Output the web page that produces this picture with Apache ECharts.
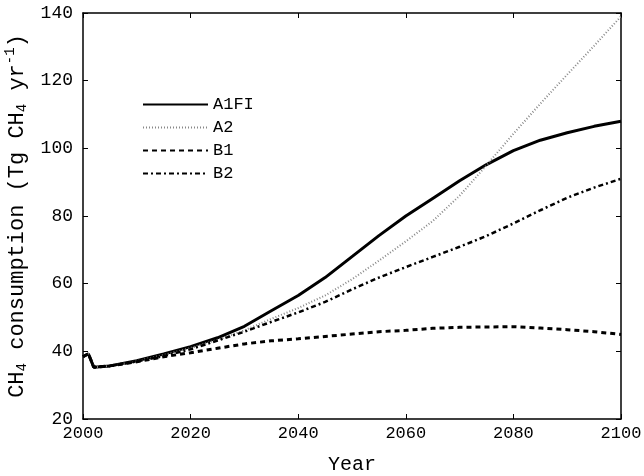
<!DOCTYPE html>
<html>
<head>
<meta charset="utf-8">
<script src="https://cdn.jsdelivr.net/npm/echarts@6/dist/echarts.min.js"></script>
<style>html,body{margin:0;padding:0;background:#fff}#c{width:644px;height:476px}</style>
</head>
<body>
<div id="c"></div>
<script>
var years = [2000, 2001, 2002, 2005, 2010, 2015, 2020, 2025, 2030, 2035, 2040, 2045, 2050, 2055, 2060, 2065, 2070, 2075, 2080, 2085, 2090, 2095, 2100];
var a1fi = [38.4, 39.3, 35.3, 35.7, 37.2, 39.2, 41.4, 44.0, 47.4, 52.0, 56.5, 61.8, 68.0, 74.2, 80.0, 85.2, 90.4, 95.2, 99.3, 102.4, 104.6, 106.5, 108.0];
var a2 = [38.4, 39.3, 35.3, 35.7, 37.1, 38.9, 41.0, 43.4, 46.2, 49.6, 52.8, 56.5, 61.3, 66.8, 72.5, 78.5, 86.0, 95.0, 104.3, 113.2, 121.8, 130.3, 139.0];
var b1 = [38.4, 39.3, 35.3, 35.7, 36.9, 38.4, 39.6, 40.9, 42.2, 43.1, 43.7, 44.4, 45.1, 45.8, 46.2, 46.8, 47.1, 47.2, 47.3, 46.9, 46.4, 45.8, 45.0];
var b2 = [38.4, 39.3, 35.3, 35.7, 37.0, 38.6, 40.6, 43.2, 45.8, 48.7, 51.5, 54.6, 58.3, 61.8, 64.9, 67.9, 70.9, 74.1, 77.8, 81.7, 85.4, 88.4, 91.0];
var xTicks = [2000, 2020, 2040, 2060, 2080, 2100];
var yTicks = [20, 40, 60, 80, 100, 120, 140];

function pairs(v){ return years.map(function(y,i){ return [y, v[i]]; }); }
var FONT = 'Liberation Mono';
var chart = echarts.init(document.getElementById('c'), null, {renderer:'canvas'});
var axisLine = {show:true, lineStyle:{color:'#000', width:1.5}};
var tick = {show:true, inside:true, length:5, lineStyle:{color:'#000', width:1}};
chart.setOption({
  animation:false,
  backgroundColor:'#fff',
  grid:{left:83, right:23, top:13, bottom:57, containLabel:false, outerBoundsMode:'none'},
  legend:{
    orient:'vertical', left:137, top:91, itemWidth:65, itemHeight:12, itemGap:6,
    itemStyle:{opacity:0},
    textStyle:{fontFamily:FONT, fontSize:17, color:'#000'},
    data:['A1FI','A2','B1','B2']
  },
  xAxis:[{
    type:'value', min:xTicks[0], max:xTicks[xTicks.length-1], interval:20,
    name:'Year', nameLocation:'middle', nameGap:36,
    nameTextStyle:{fontFamily:FONT, fontSize:20, color:'#000'},
    axisLine:axisLine, axisTick:tick, splitLine:{show:false},
    axisLabel:{fontFamily:FONT, fontSize:17, color:'#000', margin:6, formatter:function(v){return String(v);}}
  },{
    type:'value', position:'top', min:2000, max:2100, interval:20,
    axisLine:axisLine, axisTick:tick, axisLabel:{show:false}, splitLine:{show:false}
  }],
  yAxis:[{
    type:'value', min:yTicks[0], max:yTicks[yTicks.length-1], interval:20,
    name:'{n|CH}{s|4}{n| consumption (Tg CH}{s|4}{n| yr}{p|-1}{n|)}',
    nameLocation:'middle', nameGap:52,
    nameTextStyle:{fontFamily:FONT, fontSize:22, color:'#000',
      rich:{
        n:{fontFamily:FONT, fontSize:22, color:'#000'},
        s:{fontFamily:FONT, fontSize:14, color:'#000', padding:[12,0,0,0]},
        p:{fontFamily:FONT, fontSize:14, color:'#000', padding:[0,0,12,0]}
      }},
    axisLine:axisLine, axisTick:tick, splitLine:{show:false},
    axisLabel:{fontFamily:FONT, fontSize:18, color:'#000', margin:10}
  },{
    type:'value', position:'right', min:20, max:140, interval:20,
    axisLine:axisLine, axisTick:tick, axisLabel:{show:false}, splitLine:{show:false}
  }],
  series:[
    {name:'A1FI', type:'line', data:pairs(a1fi), showSymbol:false, symbol:'none',
     lineStyle:{color:'#000', width:3, type:'solid'}, itemStyle:{color:'#000'}},
    {name:'A2', type:'line', data:pairs(a2), showSymbol:false, symbol:'none',
     lineStyle:{color:'#888', width:2, type:[1,2]}, itemStyle:{color:'#888'}},
    {name:'B1', type:'line', data:pairs(b1), showSymbol:false, symbol:'none',
     lineStyle:{color:'#000', width:3, type:[5,4]}, itemStyle:{color:'#000'}},
    {name:'B2', type:'line', data:pairs(b2), showSymbol:false, symbol:'none',
     lineStyle:{color:'#000', width:2.5, type:[5,3,2,3]}, itemStyle:{color:'#000'}}
  ]
});
</script>
</body>
</html>
